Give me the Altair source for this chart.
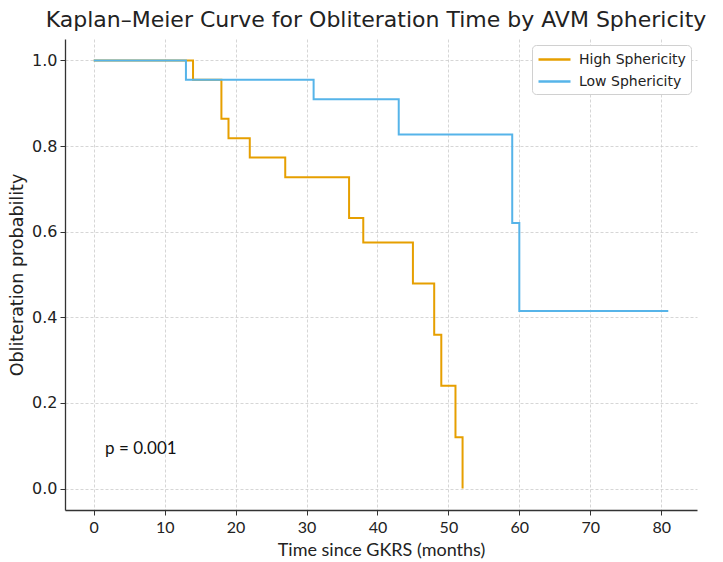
import altair as alt
import pandas as pd

high_t = [0, 14, 18, 19, 22, 27, 36, 38, 45, 48, 49, 51, 52]
high_s = [1.0, 0.955, 0.864, 0.818, 0.773, 0.727, 0.632, 0.575, 0.479, 0.359, 0.240, 0.120, 0.0]
low_t = [0, 13, 31, 43, 59, 60, 81]
low_s = [1.0, 0.955, 0.909, 0.827, 0.620, 0.415, 0.415]

groups = ["High Sphericity", "Low Sphericity"]
colors = ["#E69F00", "#56B4E9"]

x_ticks = [0, 10, 20, 30, 40, 50, 60, 70, 80]
y_ticks = [0.0, 0.2, 0.4, 0.6, 0.8, 1.0]

rows = []
for t, s in zip(high_t, high_s):
    rows.append({"t": t, "s": s, "g": groups[0]})
for t, s in zip(low_t, low_s):
    rows.append({"t": t, "s": s, "g": groups[1]})
df = pd.DataFrame(rows)

x_scale = alt.Scale(domain=[-4.05, 85.05], nice=False, zero=False)
y_scale = alt.Scale(domain=[-0.05, 1.05], nice=False, zero=False)

lines = alt.Chart(df).mark_line(interpolate="step-after", strokeWidth=2).encode(
    x=alt.X("t:Q", scale=x_scale,
            axis=alt.Axis(values=x_ticks, title="Time since GKRS (months)", format="d",
                          labelFont="Lato", labelFontSize=16, titleFont="Lato",
                          titleFontSize=18, titlePadding=6, labelPadding=4)),
    y=alt.Y("s:Q", scale=y_scale,
            axis=alt.Axis(values=y_ticks, title="Obliteration probability", format=".1f",
                          labelFont="DejaVu Sans", labelFontSize=16, titleFont="DejaVu Sans",
                          titleFontSize=17.5, titlePadding=5, labelPadding=3)),
    color=alt.Color("g:N", scale=alt.Scale(domain=groups, range=colors),
                    legend=alt.Legend(title=None, orient="top-right", offset=6,
                                      symbolType="M-2,0H2", symbolStrokeWidth=2.5,
                                      symbolSize=256, symbolOffset=8,
                                      labelFont="DejaVu Sans",
                                      labelFontSize=14, labelColor="#222", labelOffset=15,
                                      strokeColor="#d0d0d0", fillColor="white",
                                      cornerRadius=4, padding=5, rowPadding=5)),
    order=alt.Order("t:Q"),
)

ptext = alt.Chart(pd.DataFrame({"t": [1.6], "s": [0.093], "label": ["p = 0.001"]})).mark_text(
    align="left", baseline="middle", font="Lato", fontSize=17, color="#111"
).encode(x=alt.X("t:Q", scale=x_scale), y=alt.Y("s:Q", scale=y_scale), text="label:N")

chart = (lines + ptext).properties(
    width=632, height=471,
    title=alt.TitleParams("Kaplan–Meier Curve for Obliteration Time by AVM Sphericity",
                          font="DejaVu Sans", fontSize=22, fontWeight="normal",
                          color="#222", anchor="middle", offset=7, dx=-5),
    autosize=alt.AutoSizeParams(type="none"),
    padding={"left": 57, "top": 31, "right": 16, "bottom": 50},
).configure_view(stroke=None).configure_axis(
    domainColor="#333", domainWidth=1.3, tickColor="#333", tickSize=5,
    grid=True, gridColor="#cccccc", gridDash=[3, 2], gridWidth=0.8,
    labelColor="#222", titleFontWeight="normal", titleColor="#222",
)

chart.save("out.html", embed_options={"renderer": "svg", "actions": False})
